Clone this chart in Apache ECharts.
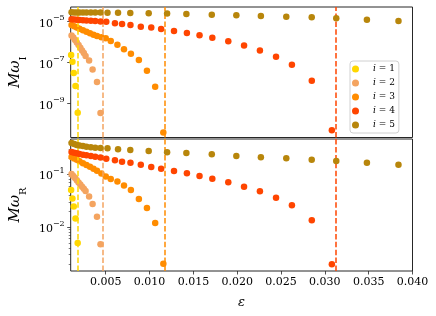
<!DOCTYPE html>
<html>
<head>
<meta charset="utf-8">
<script src="https://cdn.jsdelivr.net/npm/echarts/dist/echarts.min.js"></script>
<style>
html,body{margin:0;padding:0;background:#fff;}
#chart{width:436px;height:316px;}
</style>
</head>
<body>
<div id="chart"></div>
<script>
// ---- data ----
const seriesNames = ['i = 1', 'i = 2', 'i = 3', 'i = 4', 'i = 5'];
const seriesColors = ['#ffd700', '#f4a460', '#ff8c00', '#ff4500', '#b8860b'];

const eps1 = [0.00105, 0.0012, 0.00135, 0.00155, 0.0018];
const wI1 = [2.4e-7, 1.1e-7, 3.1e-8, 7.3e-9, 3.6e-10];
const wR1 = [0.0503, 0.0347, 0.0245, 0.0145, 0.00496];

const eps2 = [0.0011, 0.0013, 0.0015, 0.0017, 0.0019, 0.0021, 0.0023, 0.0025, 0.0027, 0.0031, 0.0035, 0.0040, 0.0044];
const wI2 = [2.1e-6, 1.7e-6, 1.28e-6, 9.7e-7, 7.3e-7, 5.3e-7, 3.9e-7, 2.96e-7, 2.1e-7, 1.28e-7, 4.66e-8, 1.15e-8, 3.5e-10];
const wR2 = [0.101, 0.093, 0.085, 0.077, 0.070, 0.064, 0.058, 0.053, 0.048, 0.0379, 0.0273, 0.0156, 0.0047];

const eps3 = [0.0011, 0.0014, 0.0017, 0.0020, 0.0024, 0.0028, 0.0032, 0.0036, 0.0040, 0.0045, 0.0050, 0.00557, 0.00633, 0.00708, 0.00787, 0.00878, 0.0097, 0.01064, 0.01157];
const wI3 = [6.9e-6, 5.97e-6, 5.2e-6, 4.5e-6, 3.8e-6, 3.2e-6, 2.7e-6, 2.3e-6, 2.0e-6, 1.75e-6, 1.55e-6, 1.15e-6, 7.55e-7, 4.56e-7, 2.72e-7, 1.35e-7, 4.03e-8, 6.67e-9, 3.94e-11];
const wR3 = [0.213, 0.200, 0.188, 0.176, 0.162, 0.150, 0.139, 0.128, 0.117, 0.104, 0.0908, 0.0815, 0.0730, 0.0612, 0.0504, 0.0340, 0.0230, 0.0119, 0.0020];

const eps4 = [0.0011, 0.0014, 0.0017, 0.0020, 0.0024, 0.0028, 0.0033, 0.0038, 0.0044, 0.00506, 0.00605, 0.00686, 0.00782, 0.0090, 0.01019, 0.01132, 0.01279, 0.01426, 0.0157, 0.01716, 0.01898, 0.02078, 0.02259, 0.02443, 0.02624, 0.02851, 0.0308];
const wI4 = [1.31e-5, 1.27e-5, 1.24e-5, 1.2e-5, 1.17e-5, 1.14e-5, 1.1e-5, 1.07e-5, 1.03e-5, 1.0e-5, 8.35e-6, 7.73e-6, 6.9e-6, 5.7e-6, 5.21e-6, 4.40e-6, 3.52e-6, 2.81e-6, 2.17e-6, 1.66e-6, 1.11e-6, 6.9e-7, 3.94e-7, 1.96e-7, 7.98e-8, 1.32e-8, 5.0e-11];
const wR4 = [0.265, 0.257, 0.250, 0.243, 0.236, 0.229, 0.222, 0.215, 0.208, 0.198, 0.184, 0.173, 0.166, 0.152, 0.1377, 0.1277, 0.1155, 0.1045, 0.0929, 0.0826, 0.0705, 0.0582, 0.0476, 0.0360, 0.0258, 0.0134, 0.00196];

const eps5 = [0.0011, 0.0014, 0.0017, 0.0020, 0.0024, 0.0028, 0.0033, 0.0038, 0.0044, 0.0052, 0.0064, 0.0078, 0.0099, 0.0120, 0.0142, 0.0171, 0.0199, 0.0227, 0.0256, 0.0285, 0.0313, 0.0348, 0.0384];
const wI5 = [2.85e-5, 2.84e-5, 2.83e-5, 2.82e-5, 2.81e-5, 2.8e-5, 2.79e-5, 2.78e-5, 2.77e-5, 2.75e-5, 2.72e-5, 2.68e-5, 2.6e-5, 2.52e-5, 2.38e-5, 2.19e-5, 2.05e-5, 1.90e-5, 1.75e-5, 1.64e-5, 1.47e-5, 1.25e-5, 1.08e-5];
const wR5 = [0.393, 0.375, 0.362, 0.352, 0.343, 0.335, 0.327, 0.321, 0.316, 0.311, 0.298, 0.289, 0.277, 0.263, 0.253, 0.240, 0.223, 0.210, 0.201, 0.189, 0.179, 0.166, 0.152];

// dashed vertical lines (critical epsilon for i = 1..4)
const thresholds = [0.00182, 0.00465, 0.01176, 0.03121];

// axis ticks
const xTicks = [0.005, 0.010, 0.015, 0.020, 0.025, 0.030, 0.035, 0.040];
const yTopTicks = [1e-9, 1e-7, 1e-5];
const yBotTicks = [1e-2, 1e-1];
const yBotMinor = [2e-3, 3e-3, 4e-3, 5e-3, 6e-3, 7e-3, 8e-3, 9e-3, 2e-2, 3e-2, 4e-2, 5e-2, 6e-2, 7e-2, 8e-2, 9e-2, 2e-1, 3e-1, 4e-1];

// ---- chart ----
const epsList = [eps1, eps2, eps3, eps4, eps5];
const wIList = [wI1, wI2, wI3, wI4, wI5];
const wRList = [wR1, wR2, wR3, wR4, wR5];

const FONT = 'DejaVu Serif';
const AX = '#262626';

function pairs(xs, ys) { return xs.map((x, k) => [x, ys[k]]); }
function powLabel(v) {
  const e = Math.round(Math.log10(v));
  return '{b|10}{s|' + (e < 0 ? '\u2212' + (-e) : e) + '}';
}
const powRich = {
  b: { fontFamily: FONT, fontSize: 11, lineHeight: 15, color: '#000', verticalAlign: 'bottom' },
  s: { fontFamily: FONT, fontSize: 8, lineHeight: 9, color: '#000', verticalAlign: 'top' }
};

function mkLine(k) {
  if (k >= thresholds.length) return undefined;
  return {
    silent: true, symbol: ['none', 'none'], label: { show: false }, animation: false,
    precision: 6,
    lineStyle: { color: seriesColors[k], type: [5.5, 2.4], width: 1.5, opacity: 1 },
    emphasis: { disabled: true },
    data: [{ xAxis: thresholds[k] }]
  };
}

const series = [];
for (let k = 0; k < 5; k++) {
  series.push({
    type: 'scatter', name: seriesNames[k], xAxisIndex: 0, yAxisIndex: 0,
    data: pairs(epsList[k], wIList[k]), symbol: 'circle', symbolSize: 6.5,
    itemStyle: { color: seriesColors[k], opacity: 1 }, z: 2 + k,
    markLine: mkLine(k)
  });
  series.push({
    type: 'scatter', name: seriesNames[k], xAxisIndex: 1, yAxisIndex: 1,
    data: pairs(epsList[k], wRList[k]), symbol: 'circle', symbolSize: 6.5,
    itemStyle: { color: seriesColors[k], opacity: 1 }, z: 2 + k,
    markLine: mkLine(k)
  });
}

const chart = echarts.init(document.getElementById('chart'), null, { renderer: 'canvas' });
chart.setOption({
  animation: false,
  backgroundColor: '#fff',
  grid: [
    { left: 59, right: 23.5, top: 7, height: 130.5, show: true, borderColor: AX, borderWidth: 1, backgroundColor: 'transparent' },
    { left: 59, right: 23.5, top: 139, height: 132, show: true, borderColor: AX, borderWidth: 1, backgroundColor: 'transparent' }
  ],
  xAxis: [
    { gridIndex: 0, type: 'value', min: 0.001, max: 0.04,
      axisLine: { show: false }, axisTick: { show: false }, axisLabel: { show: false }, splitLine: { show: false } },
    { gridIndex: 1, type: 'value', min: 0.001, max: 0.04,
      axisLine: { show: false },
      axisTick: { show: true, length: 3.5, customValues: xTicks, lineStyle: { color: AX, width: 0.8 } },
      axisLabel: { show: true, customValues: xTicks, formatter: v => v.toFixed(3), fontFamily: FONT, fontSize: 11, color: '#000', margin: 6 },
      splitLine: { show: false },
      name: '\u03b5', nameLocation: 'middle', nameGap: 25,
      nameTextStyle: { fontFamily: FONT, fontStyle: 'italic', fontSize: 13, color: '#000' } }
  ],
  yAxis: [
    { gridIndex: 0, type: 'log', logBase: 10, min: 2.24e-11, max: 5.2e-5, position: 'left',
      axisLine: { show: false },
      axisTick: { show: true, length: 3.5, customValues: yTopTicks, lineStyle: { color: AX, width: 0.8 } },
      axisLabel: { show: true, customValues: yTopTicks, formatter: powLabel, rich: powRich, margin: 6 },
      splitLine: { show: false },
      name: '{a|M\u03c9}{c|I}', nameLocation: 'middle', nameGap: 38, nameRotate: 90,
      nameTextStyle: { rich: {
        a: { fontFamily: FONT, fontStyle: 'italic', fontSize: 15, lineHeight: 20, color: '#000', verticalAlign: 'top' },
        c: { fontFamily: FONT, fontSize: 10, lineHeight: 20, color: '#000', verticalAlign: 'bottom' } } } },
    { gridIndex: 1, type: 'log', logBase: 10, min: 1.46e-3, max: 0.468, position: 'left',
      axisLine: { show: false },
      axisTick: { show: true, length: 3.5, customValues: yBotTicks, lineStyle: { color: AX, width: 0.8 } },
      axisLabel: { show: true, customValues: yBotTicks, formatter: powLabel, rich: powRich, margin: 6 },
      splitLine: { show: false },
      name: '{a|M\u03c9}{c|R}', nameLocation: 'middle', nameGap: 38, nameRotate: 90,
      nameTextStyle: { rich: {
        a: { fontFamily: FONT, fontStyle: 'italic', fontSize: 15, lineHeight: 20, color: '#000', verticalAlign: 'top' },
        c: { fontFamily: FONT, fontSize: 10, lineHeight: 20, color: '#000', verticalAlign: 'bottom' } } } },
    { gridIndex: 1, type: 'log', logBase: 10, min: 1.46e-3, max: 0.468, position: 'left', offset: 0,
      axisLine: { show: false },
      axisTick: { show: true, length: 2, customValues: yBotMinor, lineStyle: { color: AX, width: 0.6 } },
      axisLabel: { show: false }, splitLine: { show: false } }
  ],
  legend: {
    data: seriesNames, orient: 'vertical', left: 350, top: 61,
    padding: [3, 4, 3, 2], itemWidth: 25, itemHeight: 7, itemGap: 4, icon: 'circle',
    borderColor: '#d0d0d0', borderWidth: 1, borderRadius: 3, backgroundColor: 'rgba(255,255,255,0.8)',
    selectedMode: false,
    formatter: name => '{it|i} = ' + name.split('=')[1].trim(),
    textStyle: { fontFamily: FONT, fontSize: 9, lineHeight: 10, color: '#000',
      rich: { it: { fontFamily: FONT, fontStyle: 'italic', fontSize: 9, lineHeight: 10, color: '#000' } } }
  },
  series: series
});
</script>
</body>
</html>
